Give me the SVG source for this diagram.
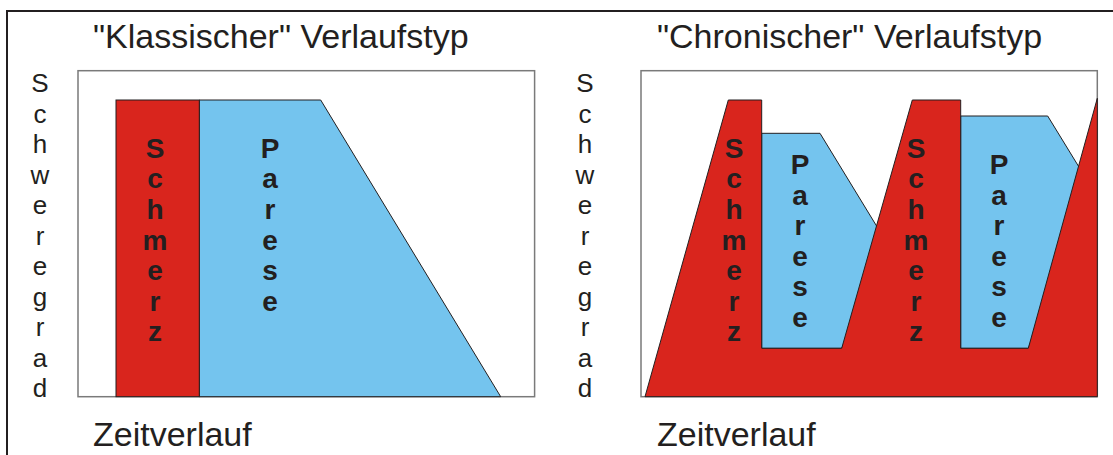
<svg xmlns="http://www.w3.org/2000/svg" width="1113" height="455" viewBox="0 0 1113 455">
<style>
.t{font-family:"Liberation Sans",Arial,sans-serif;fill:#231f20}
.title{font-size:34px}
.axis{font-size:34px}
.vert{font-size:26px;text-anchor:middle}
.bold{font-size:28px;font-weight:bold;text-anchor:middle}
.box{fill:#fff;stroke:#7a7a7a;stroke-width:1.5}
.red{fill:#d9251d;stroke:#231f20;stroke-width:1}
.blue{fill:#74c4ee;stroke:#231f20;stroke-width:1}
</style>
<rect width="1113" height="455" fill="#fff"/>
<path d="M7,455 V11 H1113" fill="none" stroke="#231f20" stroke-width="2"/>

<g id="klassisch">
  <text class="t title" x="93" y="47.5">"Klassischer" Verlaufstyp</text>
  <rect class="box" x="78" y="70.7" width="456.6" height="326"/>
  <g id="k-parese">
    <polygon class="blue" points="199.3,100 320.7,100 500.7,396.7 199.3,396.7"/>
    <text class="t bold"><tspan x="270" y="157.7">P</tspan><tspan x="270" dy="30.6">a</tspan><tspan x="270" dy="30.6">r</tspan><tspan x="270" dy="30.6">e</tspan><tspan x="270" dy="30.6">s</tspan><tspan x="270" dy="30.6">e</tspan></text>
  </g>
  <g id="k-schmerz">
    <rect class="red" x="116" y="100" width="83.3" height="296.7"/>
    <text class="t bold"><tspan x="155" y="157.7">S</tspan><tspan x="155" dy="30.6">c</tspan><tspan x="155" dy="30.6">h</tspan><tspan x="155" dy="30.6">m</tspan><tspan x="155" dy="30.6">e</tspan><tspan x="155" dy="30.6">r</tspan><tspan x="155" dy="30.6">z</tspan></text>
  </g>
  <text class="t vert"><tspan x="40" y="92">S</tspan><tspan x="40" dy="30.5">c</tspan><tspan x="40" dy="30.5">h</tspan><tspan x="40" dy="30.5">w</tspan><tspan x="40" dy="30.5">e</tspan><tspan x="40" dy="30.5">r</tspan><tspan x="40" dy="30.5">e</tspan><tspan x="40" dy="30.5">g</tspan><tspan x="40" dy="30.5">r</tspan><tspan x="40" dy="30.5">a</tspan><tspan x="40" dy="30.5">d</tspan></text>
  <text class="t axis" x="93" y="446">Zeitverlauf</text>
</g>

<g id="chronisch">
  <text class="t title" x="657" y="47.5">"Chronischer" Verlaufstyp</text>
  <rect class="box" x="641" y="70.7" width="456.3" height="326"/>
  <g id="c-parese-1">
    <polygon class="blue" points="761.7,133.3 820,133.3 890,248 841.7,348.3 761.7,348.3"/>
  </g>
  <g id="c-parese-2">
    <polygon class="blue" points="960.7,116 1047.7,116 1090,185 1028.3,348.3 960.7,348.3"/>
  </g>
  <g id="c-schmerz">
    <polygon class="red" points="645,396.7 728.3,100 761.7,100 761.7,348.3 841.7,348.3 912.3,100 960.7,100 960.7,348.3 1028.3,348.3 1097.3,98.3 1097.3,396.7"/>
  </g>
  <text class="t bold"><tspan x="734" y="157.7">S</tspan><tspan x="734" dy="30.6">c</tspan><tspan x="734" dy="30.6">h</tspan><tspan x="734" dy="30.6">m</tspan><tspan x="734" dy="30.6">e</tspan><tspan x="734" dy="30.6">r</tspan><tspan x="734" dy="30.6">z</tspan></text>
  <text class="t bold"><tspan x="916" y="157.7">S</tspan><tspan x="916" dy="30.6">c</tspan><tspan x="916" dy="30.6">h</tspan><tspan x="916" dy="30.6">m</tspan><tspan x="916" dy="30.6">e</tspan><tspan x="916" dy="30.6">r</tspan><tspan x="916" dy="30.6">z</tspan></text>
  <text class="t bold"><tspan x="800" y="174">P</tspan><tspan x="800" dy="30.6">a</tspan><tspan x="800" dy="30.6">r</tspan><tspan x="800" dy="30.6">e</tspan><tspan x="800" dy="30.6">s</tspan><tspan x="800" dy="30.6">e</tspan></text>
  <text class="t bold"><tspan x="999" y="174">P</tspan><tspan x="999" dy="30.6">a</tspan><tspan x="999" dy="30.6">r</tspan><tspan x="999" dy="30.6">e</tspan><tspan x="999" dy="30.6">s</tspan><tspan x="999" dy="30.6">e</tspan></text>
  <text class="t vert"><tspan x="585" y="92">S</tspan><tspan x="585" dy="30.5">c</tspan><tspan x="585" dy="30.5">h</tspan><tspan x="585" dy="30.5">w</tspan><tspan x="585" dy="30.5">e</tspan><tspan x="585" dy="30.5">r</tspan><tspan x="585" dy="30.5">e</tspan><tspan x="585" dy="30.5">g</tspan><tspan x="585" dy="30.5">r</tspan><tspan x="585" dy="30.5">a</tspan><tspan x="585" dy="30.5">d</tspan></text>
  <text class="t axis" x="657" y="446">Zeitverlauf</text>
</g>
<g id="connectors"/>
</svg>
